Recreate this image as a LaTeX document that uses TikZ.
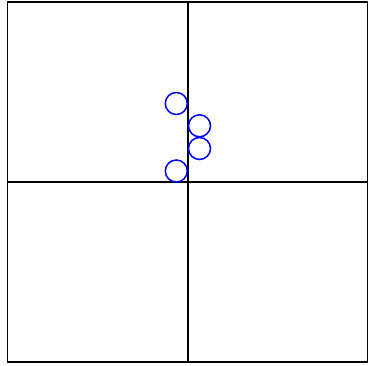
\documentclass[tikz,border=0pt]{standalone}
\begin{document}
\begin{tikzpicture}[x=1pt,y=-1pt,
  frame/.style={draw=black,line width=1.6pt},
  ring/.style={circle,draw=blue,line width=1.5pt,minimum size=22pt,inner sep=0pt}]
\useasboundingbox (0,0) rectangle (368,366);
\draw[frame] (7.5,2) rectangle (367.5,362);
\coordinate (t) at (188,2);
\coordinate (b) at (188,362);
\coordinate (l) at (7.5,182);
\coordinate (r) at (367.5,182);
\draw[frame] (t) -- (b);
\draw[frame] (l) -- (r);
\node[ring] (c1) at (176.3,103.5) {};
\node[ring] (c2) at (199.5,125.8) {};
\node[ring] (c3) at (199.5,148.5) {};
\node[ring] (c4) at (176.3,171) {};
\end{tikzpicture}
\end{document}
